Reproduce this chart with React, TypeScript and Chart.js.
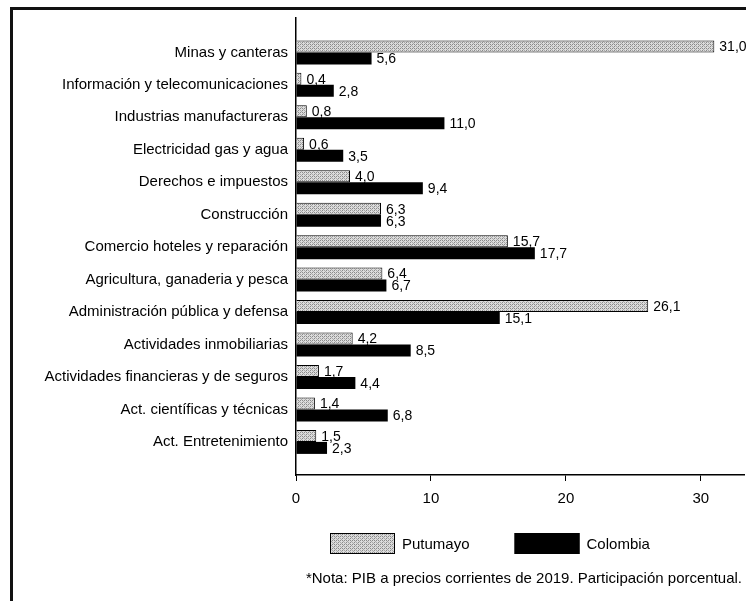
import React, { useEffect, useRef } from "react";
import { Chart, registerables } from "chart.js";

Chart.register(...registerables);

const categories = [
  "Minas y canteras",
  "Información y telecomunicaciones",
  "Industrias manufactureras",
  "Electricidad gas y agua",
  "Derechos e impuestos",
  "Construcción",
  "Comercio hoteles y reparación",
  "Agricultura, ganaderia y pesca",
  "Administración pública y defensa",
  "Actividades inmobiliarias",
  "Actividades financieras y de seguros",
  "Act. científicas y técnicas",
  "Act. Entretenimiento",
];

const putumayo = [31.0, 0.4, 0.8, 0.6, 4.0, 6.3, 15.7, 6.4, 26.1, 4.2, 1.7, 1.4, 1.5];
const colombia = [5.6, 2.8, 11.0, 3.5, 9.4, 6.3, 17.7, 6.7, 15.1, 8.5, 4.4, 6.8, 2.3];

const seriesNames = ["Putumayo", "Colombia"];
const xTicks = [0, 10, 20, 30];
const note = "*Nota: PIB a precios corrientes de 2019. Participación porcentual.";

const FONT = "'Liberation Sans', Arial, sans-serif";

function makePattern(): CanvasPattern | string {
  const c = document.createElement("canvas");
  c.width = 4;
  c.height = 4;
  const g = c.getContext("2d");
  if (!g) return "#bbbbbb";
  g.fillStyle = "#dcdcdc";
  g.fillRect(0, 0, 4, 4);
  g.fillStyle = "#8a8a8a";
  g.fillRect(0, 0, 1, 1);
  g.fillRect(2, 2, 1, 1);
  g.fillRect(2, 0, 1, 1);
  g.fillStyle = "#a8a8a8";
  g.fillRect(0, 2, 1, 1);
  g.fillRect(1, 3, 1, 1);
  g.fillRect(3, 1, 1, 1);
  const p = g.createPattern(c, "repeat");
  return p || "#bbbbbb";
}

const fmt = (v: number) => v.toFixed(1).replace(".", ",");

const extrasPlugin = {
  id: "extras",
  afterDatasetsDraw(chart: any) {
    const ctx = chart.ctx;
    ctx.save();
    ctx.fillStyle = "#000";
    ctx.font = `14px ${FONT}`;
    ctx.textAlign = "left";
    ctx.textBaseline = "middle";
    chart.data.datasets.forEach((ds: any, di: number) => {
      const meta = chart.getDatasetMeta(di);
      meta.data.forEach((el: any, i: number) => {
        const v = ds.data[i].x;
        ctx.fillText(fmt(v), el.x + 5, el.y + 1);
      });
    });
    ctx.restore();
  },
  afterDraw(chart: any) {
    const ctx = chart.ctx;
    const area = chart.chartArea;
    ctx.save();
    // legend
    const boxW = 65;
    const boxH = 21;
    const legendY = area.bottom + 58;
    let x = area.left + 34;
    ctx.font = `15px ${FONT}`;
    ctx.textBaseline = "middle";
    ctx.textAlign = "left";
    chart.data.datasets.forEach((ds: any) => {
      ctx.fillStyle = ds.backgroundColor;
      ctx.fillRect(x, legendY, boxW, boxH);
      ctx.strokeStyle = "#000";
      ctx.lineWidth = 1;
      ctx.strokeRect(x + 0.5, legendY + 0.5, boxW - 1, boxH - 1);
      ctx.fillStyle = "#000";
      const tx = x + boxW + 7;
      ctx.fillText(ds.label, tx, legendY + boxH / 2 + 1);
      x = tx + ctx.measureText(ds.label).width + 45;
    });
    // note
    ctx.font = `15px ${FONT}`;
    ctx.textAlign = "right";
    ctx.fillText(note, area.right - 2, area.bottom + 104);
    ctx.restore();
  },
};

export default function App() {
  const ref = useRef<HTMLCanvasElement | null>(null);

  useEffect(() => {
    if (!ref.current) return;
    const pattern = makePattern();
    const chart = new Chart(ref.current, {
      type: "bar",
      data: {
        datasets: [
          {
            label: seriesNames[0],
            data: putumayo.map((v, i) => ({ x: v, y: i })),
            backgroundColor: pattern as any,
            borderColor: "#000",
            borderWidth: 1,
            borderSkipped: "left",
            categoryPercentage: 0.74,
            barPercentage: 1.0,
          },
          {
            label: seriesNames[1],
            data: colombia.map((v, i) => ({ x: v, y: i })),
            backgroundColor: "#000",
            borderWidth: 0,
            categoryPercentage: 0.74,
            barPercentage: 1.0,
          },
        ],
      },
      options: {
        indexAxis: "y",
        animation: false,
        responsive: true,
        maintainAspectRatio: false,
        layout: { padding: { top: 18, right: 2, bottom: 84, left: 0 } },
        plugins: {
          legend: { display: false },
          tooltip: { enabled: false },
        },
        scales: {
          x: {
            type: "linear",
            min: 0,
            max: 33.2,
            afterBuildTicks: (scale: any) => {
              scale.ticks = xTicks.map((v) => ({ value: v }));
            },
            grid: { drawOnChartArea: false, tickLength: 6, color: "#000", tickColor: "#000" },
            border: { display: true, color: "#000", width: 1.5 },
            ticks: {
              color: "#000",
              font: { family: FONT, size: 15 },
              padding: 9,
              callback: (v: any) => String(v),
            },
          },
          y: {
            type: "linear",
            offset: false,
            reverse: true,
            min: -1.06,
            max: 13.02,
            afterBuildTicks: (scale: any) => {
              scale.ticks = categories.map((_, i) => ({ value: i }));
            },
            afterFit: (scale: any) => {
              scale.width = 296;
            },
            grid: { drawOnChartArea: false, drawTicks: false, offset: false },
            border: { display: true, color: "#000", width: 1.5 },
            ticks: {
              color: "#000",
              font: { family: FONT, size: 15 },
              padding: 8,
              autoSkip: false,
              callback: (v: any) => categories[Number(v)] ?? "",
            },
          },
        },
      },
      plugins: [extrasPlugin],
    } as any);
    return () => chart.destroy();
  }, []);

  return (
    <div
      style={{
        position: "fixed",
        left: 0,
        top: 0,
        width: 746,
        height: 601,
        overflow: "hidden",
        background: "#fff",
      }}
    >
      <div
        style={{
          position: "absolute",
          left: 10,
          top: 7,
          width: 800,
          height: 700,
          border: "3px solid #111",
          boxSizing: "border-box",
        }}
      />
      <canvas ref={ref} style={{ position: "absolute", left: 0, top: 0, width: 746, height: 601 }} />
    </div>
  );
}
